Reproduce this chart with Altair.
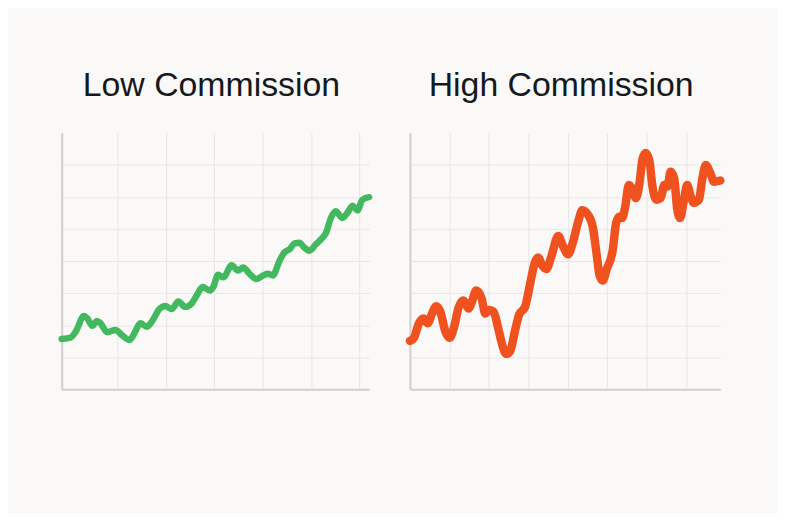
import altair as alt
import pandas as pd

# Low Commission series
low_x = [0, 0.18, 0.29, 0.46, 0.53, 0.63, 0.73, 0.80, 0.94, 1.11, 1.25, 1.40, 1.52, 1.62, 1.76, 1.86,
         2.03, 2.14, 2.27, 2.41, 2.55, 2.68, 2.79, 2.91, 3.06, 3.13, 3.23, 3.34, 3.51, 3.64, 3.75, 3.88,
         4.02, 4.16, 4.26, 4.36, 4.50, 4.60, 4.71, 4.81, 4.91, 5.01, 5.12, 5.25, 5.39, 5.46, 5.56, 5.66,
         5.80, 5.90, 6.01, 6.11, 6.21, 6.35]
low_y = [1.57, 1.61, 1.80, 2.29, 2.21, 1.98, 2.13, 2.06, 1.78, 1.85, 1.68, 1.54, 1.80, 2.06, 1.95, 2.11,
         2.52, 2.60, 2.50, 2.74, 2.57, 2.67, 2.93, 3.19, 3.08, 3.19, 3.57, 3.49, 3.87, 3.70, 3.80, 3.60,
         3.44, 3.55, 3.60, 3.55, 4.01, 4.27, 4.37, 4.55, 4.57, 4.42, 4.32, 4.52, 4.73, 4.88, 5.34, 5.55,
         5.34, 5.50, 5.72, 5.58, 5.91, 5.99]

# High Commission series
high_x = [0, 0.10, 0.23, 0.34, 0.45, 0.56, 0.67, 0.77, 0.90, 1.01, 1.11, 1.24, 1.36, 1.49, 1.57, 1.68,
          1.82, 1.91, 1.99, 2.12, 2.24, 2.33, 2.44, 2.54, 2.66, 2.77, 2.92, 3.04, 3.17, 3.25, 3.36, 3.46,
          3.59, 3.76, 3.88, 4.01, 4.13, 4.26, 4.37, 4.51, 4.64, 4.74, 4.81, 4.89, 4.99, 5.14, 5.23, 5.31,
          5.38, 5.46, 5.55, 5.65, 5.73, 5.82, 5.90, 5.98, 6.07, 6.15, 6.25, 6.36, 6.45, 6.53, 6.61, 6.70,
          6.78, 6.85, 6.95, 7.03, 7.12, 7.20, 7.33, 7.41, 7.50, 7.62, 7.71, 7.87]
high_y = [1.51, 1.60, 2.06, 2.21, 2.06, 2.36, 2.59, 2.42, 1.80, 1.61, 1.90, 2.57, 2.77, 2.52, 2.72, 3.08,
          2.83, 2.36, 2.47, 2.42, 1.90, 1.44, 1.10, 1.18, 1.80, 2.33, 2.57, 3.24, 3.96, 4.11, 3.85, 3.75,
          4.16, 4.78, 4.47, 4.21, 4.57, 5.19, 5.58, 5.45, 5.04, 4.16, 3.55, 3.39, 3.75, 4.32, 5.19, 5.38,
          5.34, 5.70, 6.37, 6.22, 5.96, 6.42, 7.19, 7.37, 7.14, 6.32, 5.91, 5.96, 6.37, 6.32, 6.78, 6.58,
          5.60, 5.34, 5.91, 6.37, 6.01, 5.81, 5.91, 6.53, 6.99, 6.73, 6.47, 6.51]

low_ticks_x = [1.15, 2.15, 3.15, 4.15, 5.15, 6.15]
high_ticks_x = [1, 2, 3, 4, 5, 6, 7]
ticks_y = [1, 2, 3, 4, 5, 6, 7]

low_df = pd.DataFrame({"x": low_x, "y": low_y})
high_df = pd.DataFrame({"x": high_x, "y": high_y})


def axis(values):
    return alt.Axis(values=values, title=None, labels=False, ticks=False, grid=True,
                    domain=True, domainColor="#cfcfcf", domainWidth=2,
                    gridColor="#e6e6e6", gridWidth=1)


def panel(df, title, color, xmax, xticks, width, sw):
    return alt.Chart(df).mark_line(color=color, strokeWidth=sw, interpolate="monotone",
                                   strokeCap="round", strokeJoin="round").encode(
        x=alt.X("x:Q", scale=alt.Scale(domain=[0, xmax], nice=False, zero=False), axis=axis(xticks)),
        y=alt.Y("y:Q", scale=alt.Scale(domain=[0, 8], nice=False), axis=axis(ticks_y)),
    ).properties(
        width=width, height=258,
        title=alt.Title(title, fontSize=34, font="Liberation Sans", fontWeight="normal",
                        color="#15191c", anchor="middle", offset=3, baseline="alphabetic", dx=-4),
    )


left = panel(low_df, "Low Commission", "#42b95e", 6.35, low_ticks_x, 309, 6.5)
right = panel(high_df, "High Commission", "#f0521f", 7.87, high_ticks_x, 312, 8.5)

chart = alt.hconcat(left, right, spacing=32).properties(
    background="#faf9f7",
    padding={"left": 50, "top": 60, "right": 52, "bottom": 124},
).configure_view(stroke=None)

chart.save("out.html", embed_options={"renderer": "svg", "actions": False})
